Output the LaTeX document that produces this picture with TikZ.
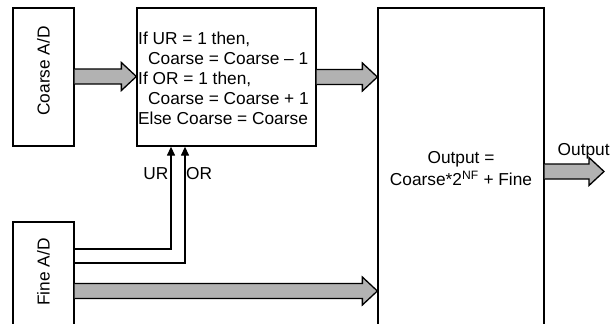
\documentclass[tikz,border=0pt]{standalone}
\usepackage{fontspec}
\setmainfont{Liberation Sans}
\usetikzlibrary{calc,arrows.meta}

% Wide block arrow between two points on the same horizontal line
\newcommand\fatarrow[2]{%
  \fill[black!30] ($(#1)+(0,-7.5)$) -- ($(#2)+(-15,-7.5)$) -- ($(#2)+(-15,-14)$) -- (#2)
     -- ($(#2)+(-15,14)$) -- ($(#2)+(-15,7.5)$) -- ($(#1)+(0,7.5)$) -- cycle;
  \draw[thick line] ($(#1)+(0,-7.5)$) -- ($(#2)+(-15,-7.5)$) -- ($(#2)+(-15,-14)$) -- (#2)
     -- ($(#2)+(-15,14)$) -- ($(#2)+(-15,7.5)$) -- ($(#1)+(0,7.5)$);}

\begin{document}
\begin{tikzpicture}[x=1pt,y=-1pt,
  thick line/.style={line width=1.3pt,line join=miter},
  block/.style={draw,line width=1.3pt,inner sep=0pt},
  txt/.style={inner sep=0pt,font=\fontsize{17.3}{20}\selectfont},
  signal/.style={line width=1.3pt,-{Triangle[length=9pt,width=8pt]}}]

\path[use as bounding box,clip] (0,0) rectangle (614,324);

% blocks
\node[block,minimum width=61pt,minimum height=138pt] (coarse) at (43.5,77) {};
\node[block,minimum width=179pt,minimum height=138pt] (logic) at (226.5,77) {};
\node[block,minimum width=166pt,minimum height=340pt] (sum) at (461,178) {};
\node[block,minimum width=61pt,minimum height=110pt] (fine) at (43.5,277) {};

% block texts
\node[txt,rotate=90] (coarsetxt) at (43.5,71) {Coarse A/D};
\node[txt,rotate=90] (finetxt) at (43.5,272) {Fine A/D};
\node[txt,anchor=north west,align=left] (logictxt) at (138,31.5)
  {If UR = 1 then,\\
   \hspace*{10pt}Coarse = Coarse – 1\\
   If OR = 1 then,\\
   \hspace*{10pt}Coarse = Coarse + 1\\
   Else Coarse = Coarse};
\node[txt,align=center,font=\fontsize{17.3}{22}\selectfont] (sumtxt) at (461,169)
  {Output =\\Coarse*2\textsuperscript{NF} + Fine};

% wide data paths
\coordinate (outend) at (604,171.5);
\fatarrow{coarse.east |- 0,76.5}{logic.west |- 0,76.5}
\fatarrow{logic.east |- 0,77}{sum.west |- 0,77}
\fatarrow{fine.east |- 0,291}{sum.west |- 0,291}
\fatarrow{sum.east |- outend}{outend}
\node[txt,anchor=base west] (outlbl) at (557.5,155.5) {Output};

% range flags from the fine converter
\coordinate (urturn) at (171,249);
\coordinate (orturn) at (185,263);
\draw[signal] (fine.east |- urturn) -- (urturn) -- (urturn |- logic.south);
\draw[signal] (fine.east |- orturn) -- (orturn) -- (orturn |- logic.south);
\node[txt,anchor=east] (urlbl) at (168.5,174) {UR};
\node[txt,anchor=west] (orlbl) at (186,174) {OR};
\end{tikzpicture}
\end{document}
